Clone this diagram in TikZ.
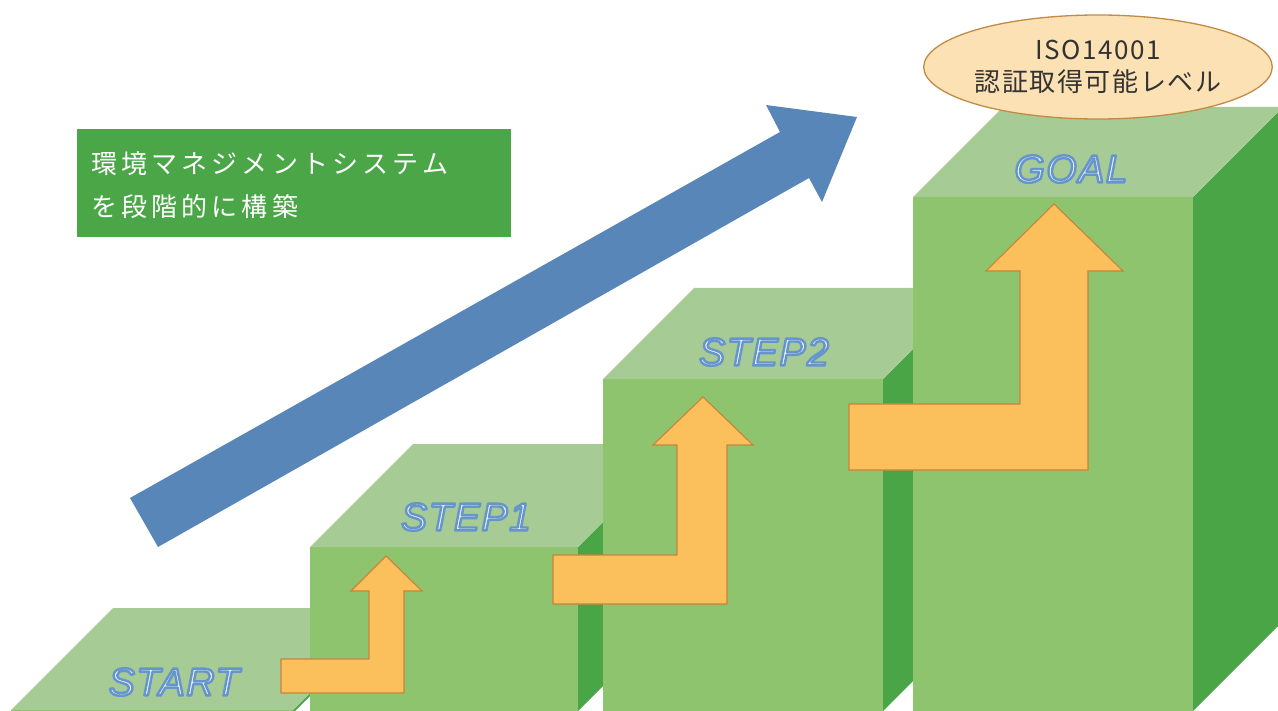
\documentclass[tikz,border=0pt]{standalone}
\usepackage{fontspec}
\setmainfont{Liberation Sans}
\newfontfamily\jpfont{Noto Sans CJK JP}
\newfontfamily\lblfont{Liberation Sans}
\usetikzlibrary{shapes.geometric}
\definecolor{topc}{HTML}{A7CB94}
\definecolor{frontc}{HTML}{8EC46E}
\definecolor{sidec}{HTML}{4AA547}
\definecolor{boxc}{HTML}{4BA648}
\definecolor{bluec}{HTML}{5886B8}
\definecolor{orfill}{HTML}{FBBF5B}
\definecolor{ordraw}{HTML}{C9843A}
\definecolor{ellfill}{HTML}{FCE1B4}
\definecolor{elldraw}{HTML}{C18A45}
\definecolor{elltext}{HTML}{333333}
\definecolor{lblfill}{HTML}{EEF3F9}
\newcommand\drawcube[5]{% left, right, top, depth, bottom
  \fill[sidec] (#2,#3) -- ({#2+#4},{#3-#4}) -- ({#2+#4},{#5-#4}) -- (#2,#5) -- cycle;
  \fill[topc] (#1,#3) -- ({#1+#4},{#3-#4}) -- ({#2+#4},{#3-#4}) -- (#2,#3) -- cycle;
  \fill[frontc] (#1,#3) rectangle (#2,#5);
}
\newcommand\outlbl[1]{\textcolor{lblfill}{\special{pdf:literal direct 0.40 0.58 0.80 RG 2.4 w 1 j 2 Tr}#1\special{pdf:literal direct 0 Tr}}}
\tikzset{
  uparrow/.style={fill=orfill, draw=ordraw, line width=1.1pt, line join=miter},
  steplabel/.style={font=\lblfont\itshape\fontsize{39}{39}\selectfont\addfontfeature{LetterSpace=4}, inner sep=0pt},
  jptext/.style={font=\jpfont\fontsize{26}{26}\selectfont\addfontfeature{LetterSpace=16}, text=white, inner sep=0pt, anchor=west},
}
\begin{document}
\begin{tikzpicture}[x=1pt,y=-1pt]
\useasboundingbox (0,0) rectangle (1278,711);
\clip (0,0) rectangle (1278,711);
% cubes
\drawcube{11}{293}{710}{102}{713}
\drawcube{310}{578}{547}{103}{711}
\drawcube{603}{883}{379}{91}{711}
\drawcube{913}{1193}{197}{90}{711}
% text box
\node[fill=boxc, minimum width=434pt, minimum height=108pt, inner sep=0pt, anchor=north west] (tbox) at (77,129) {};
\node[jptext] (tline1) at (91,163.5) {環境マネジメントシステム};
\node[jptext] (tline2) at (91,206.5) {を段階的に構築};
% blue arrow
\fill[bluec] (130,498) -- (780,132) -- (766,105) -- (857,117) -- (822,202) -- (809,178) -- (158,547) -- cycle;
% orange bent arrows
\draw[uparrow] (281,659) -- (369,659) -- (369,591) -- (351,591) -- (386,556) -- (422,591) -- (404,591) -- (404,693) -- (281,693) -- cycle;
\draw[uparrow] (553,555) -- (677,555) -- (677,445) -- (653,445) -- (703,397) -- (753,445) -- (727,445) -- (727,604) -- (553,604) -- cycle;
\draw[uparrow] (849,404) -- (1020,404) -- (1020,271) -- (986,271) -- (1054,204) -- (1123,271) -- (1088,271) -- (1088,470) -- (849,470) -- cycle;
% labels
\node[steplabel] (lstart) at (174,682) {\outlbl{START}};
\node[steplabel] (lstep1) at (466,517) {\outlbl{STEP1}};
\node[steplabel] (lstep2) at (764,352) {\outlbl{STEP2}};
\node[steplabel] (lgoal) at (1071,169) {\outlbl{GOAL}};
% ellipse
\node[ellipse, fill=ellfill, draw=elldraw, line width=1.3pt, minimum width=334pt, minimum height=104pt, inner sep=0pt, align=center, text=elltext, font=\jpfont\fontsize{26}{32}\selectfont\addfontfeature{LetterSpace=6}] (goalnote) at (1098,67) {ISO14001\\認証取得可能レベル};
\end{tikzpicture}
\end{document}
